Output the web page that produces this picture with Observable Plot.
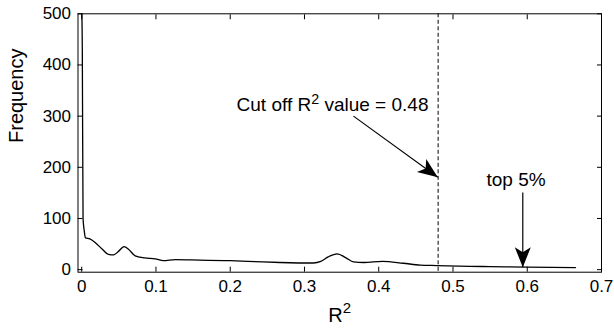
<!DOCTYPE html>
<html><head><meta charset="utf-8">
<script src="https://cdn.jsdelivr.net/npm/d3@7"></script>
<script src="https://cdn.jsdelivr.net/npm/@observablehq/plot@0.6"></script>
<style>body{margin:0;background:#fff}</style>
</head><body><div id="chart"></div>
<script>
// curve values
const r2 =   [0, 0.0008, 0.0018, 0.0035, 0.005, 0.011, 0.018, 0.027, 0.036, 0.043, 0.049, 0.057, 0.063, 0.072, 0.085, 0.099, 0.110, 0.126, 0.148, 0.2, 0.244, 0.267, 0.312, 0.322, 0.332, 0.344, 0.356, 0.366, 0.38, 0.405, 0.433, 0.456, 0.478, 0.523, 0.55, 0.6, 0.665];
const freq = [520, 430, 100, 75, 62, 60, 53, 41, 30, 29, 35, 45, 40, 27, 23, 21, 17.5, 19.5, 19, 17.5, 15, 14, 13, 16, 25, 31, 23, 15, 14, 16, 12.5, 9, 8, 6.5, 6, 5, 4];
const xTicks = [0, 0.1, 0.2, 0.3, 0.4, 0.5, 0.6, 0.7];
const yTicks = [0, 100, 200, 300, 400, 500];
const xDomain = [-0.005, 0.7];
const yDomain = [-5, 500];
const cutoff = [0.48];
const annoText = ["Cut off R^2 value = 0.48", "top 5%"];
const annoX = [0.467, 0.585];
const annoY = [321, 176];
const arrowX1 = [0.366, 0.594];
const arrowY1 = [300, 151];
const arrowX2 = [0.4795, 0.594];
const arrowY2 = [180.6, 4.7];
const xLabel = "R^2";
const yLabel = "Frequency";

const curve = r2.map((x, i) => ({x, y: freq[i]}));
const arrows = arrowX1.map((x1, i) => ({x1, y1: arrowY1[i], x2: arrowX2[i], y2: arrowY2[i]}));
const font = "'Liberation Sans', Arial, sans-serif";

const plot = Plot.plot({
  width: 614, height: 333,
  marginLeft: 77.5, marginRight: 13, marginTop: 13.3, marginBottom: 61.3,
  style: {fontFamily: font, fontSize: "17px", color: "black", background: "white", overflow: "visible"},
  x: {domain: xDomain, label: null},
  y: {domain: yDomain, label: null},
  marks: [
    Plot.ruleX(cutoff, {stroke: "black", strokeWidth: 1, strokeDasharray: "4,2.5"}),
    Plot.line(curve, {x: "x", y: "y", curve: "monotone-x", stroke: "black", strokeWidth: 1.3, clip: true}),
    Plot.frame({stroke: "black", strokeWidth: 1}),
    Plot.axisX(xTicks, {anchor: "bottom", tickSize: -5, tickPadding: 13, label: null, fontSize: 17, tickFormat: d => String(d)}),
    Plot.axisX(xTicks, {anchor: "top", tickSize: -5, label: null, tickFormat: () => ""}),
    Plot.axisY(yTicks, {anchor: "left", tickSize: -5, tickPadding: 12, label: null, fontSize: 17, tickFormat: d => String(d)}),
    Plot.axisY(yTicks, {anchor: "right", tickSize: -5, label: null, tickFormat: () => ""}),
    Plot.link(arrows, {x1: "x1", y1: "y1", x2: "x2", y2: "y2", stroke: "black", strokeWidth: 1.2}),
    Plot.text([annoText[0]], {x: annoX[0], y: annoY[0], text: d => d, textAnchor: "end", fontSize: 19}),
    Plot.text([annoText[1]], {x: annoX[1], y: annoY[1], text: d => d, textAnchor: "middle", fontSize: 19}),
    Plot.text([xLabel], {frameAnchor: "bottom", text: d => d, dy: 49.6, fontSize: 20}),
    Plot.text([yLabel], {frameAnchor: "left", text: d => d, dx: -61.5, rotate: -90, fontSize: 20})
  ]
});

document.getElementById("chart").appendChild(plot);
const svg = plot.tagName.toLowerCase() === "svg" ? plot : plot.querySelector("svg");
const sel = d3.select(svg);
// filled arrowheads
const defs = sel.append("defs");
defs.append("marker").attr("id", "ahead").attr("markerUnits", "userSpaceOnUse")
  .attr("orient", "auto").attr("markerWidth", 30).attr("markerHeight", 30)
  .attr("viewBox", "-25 -15 30 30").attr("refX", 0).attr("refY", 0)
  .append("path").attr("d", "M0,0L-20,-8L-15,0L-20,8Z").attr("fill", "black").attr("stroke", "none");
sel.selectAll('g[aria-label="link"] path').attr("marker-end", "url(#ahead)");
// superscripts
sel.selectAll("text").each(function () {
  const t = this.textContent;
  if (!t.includes("^2")) return;
  const [a, b] = t.split("^2");
  const fs = parseFloat(getComputedStyle(this).fontSize) || 19;
  const s = d3.select(this);
  s.text(null);
  s.append("tspan").text(a);
  s.append("tspan").attr("font-size", fs * 0.75).attr("dy", -fs * 0.42).text("2");
  if (b) s.append("tspan").attr("dy", fs * 0.42).text(b);
});
</script>
</body></html>
